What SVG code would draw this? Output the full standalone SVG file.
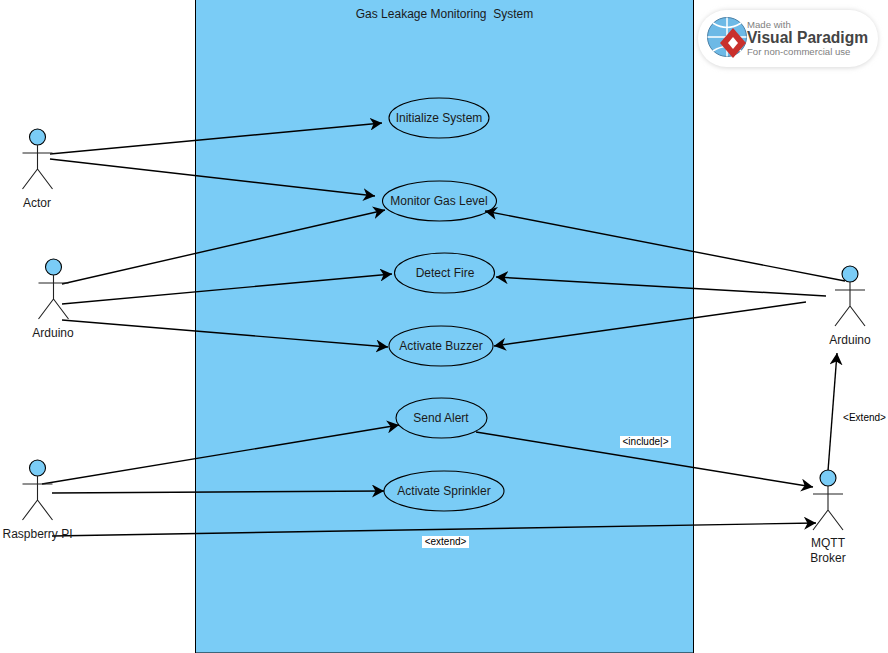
<svg xmlns="http://www.w3.org/2000/svg" width="888" height="653" viewBox="0 0 888 653">
<defs>
<style>
text{font-family:"Liberation Sans",Arial,sans-serif;font-size:12px;fill:#1a1a1a;text-anchor:middle}
.uc{fill:none;stroke:#000;stroke-width:1.1}
.head{fill:#7accf6;stroke:#000;stroke-width:1.1}
.st{fill:none;stroke:#222;stroke-width:1.1}
.cn{fill:none;stroke:#000;stroke-width:1.4;marker-end:url(#arr)}
.lbl{fill:#fff}
.tag{font-size:10px;fill:#000}
.logo-s{font-size:9.600px;text-anchor:start;fill:#808080}
</style>
<marker id="arr" viewBox="0 0 13 13" refX="12" refY="6.500" markerWidth="13" markerHeight="13" markerUnits="userSpaceOnUse" orient="auto">
<path d="M0 0L12 6.500L0 13L3.500 6.500Z" fill="#000"/>
</marker>
<filter id="sh" x="-10%" y="-20%" width="120%" height="140%"><feGaussianBlur stdDeviation="2.500"/></filter>
<symbol id="actor" overflow="visible">
<circle class="head" cx="0" cy="0" r="8"/>
<path class="st" d="M0 8V32M-15 16H15M0 32L-15 52M0 32L15 52"/>
</symbol>
</defs>
<rect width="888" height="653" fill="#fff"/>
<g id="system">
<rect x="195.500" y="-1" width="498" height="654" fill="#7accf6" stroke="#000" stroke-width="1"/>
<text x="444.500" y="18">Gas Leakage Monitoring&#160; System</text>
</g>
<g id="logo">
<rect x="698" y="10" width="180" height="58" rx="29" fill="#d8d8d8" filter="url(#sh)"/>
<rect x="698" y="10" width="180" height="57" rx="28.500" fill="#fff"/>
<circle cx="727" cy="37" r="19.500" fill="#6db9e6" stroke="#4a7fa5" stroke-width="1"/>
<path d="M707.500 37H746.500M727 17.500V56.500M713 23Q727 32 741 23M713 51Q727 42 741 51" fill="none" stroke="#fff" stroke-width="1.500"/>
<path d="M733 28L746 43L733 58L720 43Z" fill="#c9302c"/>
<path d="M733 37L738 43L733 49L728 43Z" fill="#fff"/>
<text class="logo-s" x="747" y="28">Made with</text>
<text x="747" y="43" style="font-size:15.600px;font-weight:bold;text-anchor:start;fill:#444">Visual Paradigm</text>
<text class="logo-s" x="747" y="55">For non-commercial use</text>
</g>
<g id="connectors">
<line class="cn" x1="50" y1="154" x2="382" y2="123"/>
<line class="cn" x1="50" y1="159" x2="375" y2="196"/>
<line class="cn" x1="62" y1="284" x2="385" y2="210"/>
<line class="cn" x1="62" y1="304" x2="392" y2="274"/>
<line class="cn" x1="62" y1="320" x2="388" y2="347"/>
<line class="cn" x1="42" y1="484" x2="399" y2="425"/>
<line class="cn" x1="52" y1="493" x2="384" y2="491"/>
<line class="cn" x1="52" y1="536" x2="816" y2="523"/>
<line class="cn" x1="845" y1="281" x2="485" y2="211"/>
<line class="cn" x1="826" y1="296" x2="496" y2="277"/>
<line class="cn" x1="806" y1="302" x2="494" y2="346"/>
<line class="cn" x1="476" y1="432" x2="813" y2="487"/>
<line class="cn" x1="828" y1="471" x2="837" y2="353"/>
</g>
<g id="uc-init"><ellipse class="uc" cx="439" cy="118" rx="50" ry="20"/><text x="439" y="122">Initialize System</text></g>
<g id="uc-monitor"><ellipse class="uc" cx="439.500" cy="201" rx="57" ry="20"/><text x="439" y="205">Monitor Gas Level</text></g>
<g id="uc-fire"><ellipse class="uc" cx="444.500" cy="273" rx="50" ry="20"/><text x="445" y="277">Detect Fire</text></g>
<g id="uc-buzzer"><ellipse class="uc" cx="441" cy="346" rx="52" ry="20"/><text x="441" y="350">Activate Buzzer</text></g>
<g id="uc-alert"><ellipse class="uc" cx="441.500" cy="418" rx="45.500" ry="20"/><text x="441" y="422">Send Alert</text></g>
<g id="uc-sprinkler"><ellipse class="uc" cx="444" cy="491" rx="60" ry="20"/><text x="444" y="495">Activate Sprinkler</text></g>
<g id="actor-actor"><use href="#actor" x="37.500" y="137"/><text x="37" y="207">Actor</text></g>
<g id="actor-arduino-left"><use href="#actor" x="53.500" y="267"/><text x="53" y="337">Arduino</text></g>
<g id="actor-raspberry"><use href="#actor" x="37.500" y="468"/><text x="37.500" y="538">Raspberry PI</text></g>
<g id="actor-arduino-right"><use href="#actor" x="850" y="274"/><text x="850" y="344">Arduino</text></g>
<g id="actor-mqtt"><use href="#actor" x="828" y="478"/><text x="828" y="547">MQTT</text><text x="828" y="562">Broker</text></g>
<g id="labels">
<rect class="lbl" x="620" y="436" width="51" height="12"/><text class="tag" x="645.500" y="445">&lt;include|&gt;</text>
<rect class="lbl" x="422" y="536" width="47" height="12"/><text class="tag" x="445.500" y="545">&lt;extend&gt;</text>
<rect class="lbl" x="841" y="412" width="47" height="12"/><text class="tag" x="864.500" y="421">&lt;Extend&gt;</text>
</g>
</svg>
